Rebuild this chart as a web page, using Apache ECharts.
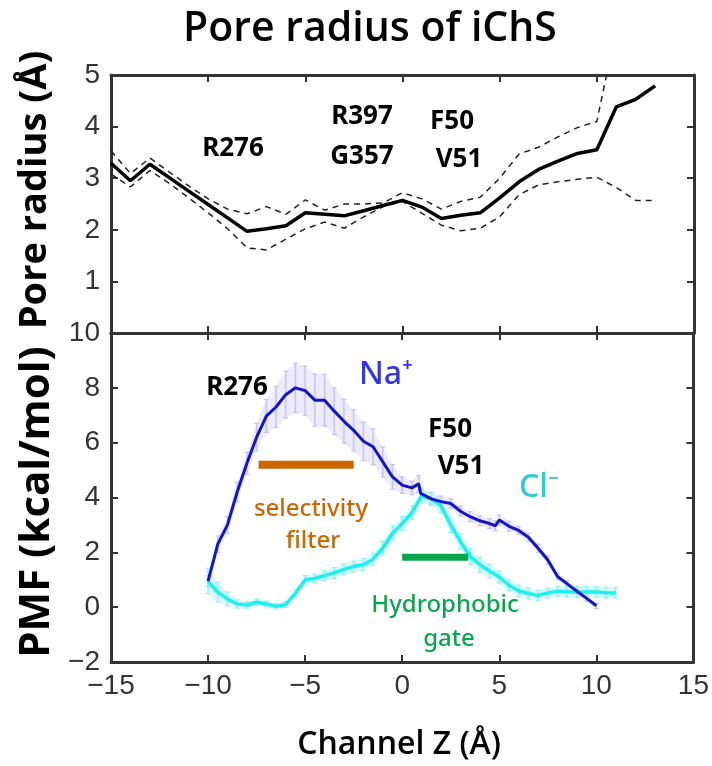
<!DOCTYPE html>
<html>
<head>
<meta charset="utf-8">
<script src="https://cdn.jsdelivr.net/npm/echarts@6/dist/echarts.min.js"></script>
<style>
  html, body { margin: 0; padding: 0; background: #fff; }
  #main { width: 712px; height: 766px; }
</style>
</head>
<body>
<div id="main"></div>
<script>
// pore radius profile (top panel)
var poreZ = [-15, -14, -13, -12, -11, -10, -9, -8, -7, -6, -5, -4, -3, -2, -1, 0, 1, 2, 3, 4, 5, 6, 7, 8, 9, 10, 11, 12, 13];
var poreMean = [3.29, 2.95, 3.27, 3.01, 2.75, 2.49, 2.23, 1.97, 2.02, 2.08, 2.33, 2.30, 2.27, 2.37, 2.47, 2.57, 2.44, 2.22, 2.28, 2.33, 2.62, 2.93, 3.17, 3.33, 3.48, 3.55, 4.38, 4.53, 4.79];
var poreUpper = [3.53, 3.09, 3.39, 3.12, 2.85, 2.6, 2.4, 2.31, 2.45, 2.3, 2.58, 2.38, 2.5, 2.5, 2.52, 2.72, 2.6, 2.4, 2.55, 2.63, 3.0, 3.47, 3.6, 3.8, 3.98, 4.1, 5.9, null, null];
var poreLower = [3.08, 2.83, 3.15, 2.9, 2.62, 2.33, 2.02, 1.65, 1.61, 1.82, 2.02, 2.15, 2.03, 2.25, 2.45, 2.55, 2.32, 2.09, 1.98, 2.03, 2.25, 2.68, 2.87, 2.93, 2.98, 3.02, 2.82, 2.57, 2.57];

// PMF of Na+ (bottom panel)
var naZ = [-10, -9.5, -9, -8.5, -8, -7.5, -7, -6.5, -6, -5.5, -5, -4.5, -4, -3.5, -3, -2.5, -2, -1.5, -1, -0.5, 0, 0.5, 0.85, 0.95, 1.5, 2, 2.5, 3, 3.5, 4, 4.5, 4.8, 5, 5.5, 6, 6.5, 7, 7.5, 8, 8.5, 9, 9.5, 10];
var naPMF = [0.95, 2.3, 3.0, 4.2, 5.25, 6.2, 6.97, 7.3, 7.75, 8.0, 7.9, 7.55, 7.55, 7.15, 6.78, 6.45, 6.05, 5.85, 5.3, 4.75, 4.45, 4.35, 4.5, 4.15, 3.95, 3.85, 3.78, 3.5, 3.3, 3.15, 3.05, 2.97, 3.18, 2.95, 2.8, 2.55, 2.15, 1.72, 1.12, 0.85, 0.58, 0.32, 0.05];
var naErr = [0.2, 0.3, 0.3, 0.35, 0.4, 0.5, 0.6, 0.75, 0.85, 0.9, 0.9, 0.95, 0.95, 0.85, 0.8, 0.75, 0.7, 0.65, 0.55, 0.45, 0.3, 0.25, 0.3, 0.2, 0.2, 0.2, 0.18, 0.18, 0.18, 0.18, 0.18, 0.18, 0.18, 0.18, 0.15, 0.15, 0.15, 0.15, 0.12, 0.12, 0.1, 0.1, 0.1];

// PMF of Cl- (bottom panel)
var clZ = [-10, -9.5, -9, -8.5, -8, -7.5, -7, -6.5, -6, -5.5, -5, -4.5, -4, -3.5, -3, -2.5, -2, -1.5, -1, -0.5, 0, 0.5, 1, 1.5, 2, 2.5, 3, 3.5, 4, 4.5, 5, 5.5, 6, 6.5, 7, 7.5, 8, 8.5, 9, 9.5, 10, 10.5, 11];
var clPMF = [0.95, 0.55, 0.3, 0.12, 0.08, 0.18, 0.12, 0.03, 0.1, 0.5, 1.0, 1.05, 1.15, 1.25, 1.38, 1.48, 1.55, 1.75, 2.15, 2.7, 3.05, 3.45, 4.05, 3.95, 3.7, 3.0, 2.4, 1.85, 1.55, 1.32, 1.1, 0.8, 0.6, 0.5, 0.43, 0.52, 0.58, 0.56, 0.55, 0.55, 0.55, 0.53, 0.52];
var clErr = [0.45, 0.35, 0.25, 0.15, 0.12, 0.12, 0.1, 0.1, 0.1, 0.15, 0.15, 0.15, 0.18, 0.2, 0.2, 0.2, 0.22, 0.22, 0.25, 0.25, 0.25, 0.25, 0.25, 0.25, 0.25, 0.28, 0.28, 0.28, 0.28, 0.25, 0.22, 0.2, 0.2, 0.2, 0.18, 0.18, 0.18, 0.2, 0.2, 0.2, 0.2, 0.2, 0.2];

// region markers
var filterZ = [-7.4, -2.5];
var filterPMF = 5.19;
var gateZ = [0.0, 3.4];
var gatePMF = 1.82;

var chartDom = document.getElementById('main');
var myChart = echarts.init(chartDom);

var AXIS = '#333';
var TICK_FONT = 'Liberation Sans';
var TEXT_FONT = '"Noto Sans", Lato, sans-serif';
var HEAD_FONT = '"Open Sans", "Noto Sans", sans-serif';

function pairs(xs, ys) {
    return xs.map(function (x, i) { return [x, ys[i]]; });
}

function minus(v) {
    return v < 0 ? '\u2212' + (-v) : '' + v;
}

// error bars + shaded band between neighbouring points
function errorRender(zs, ys, es, fill, stroke) {
    return function (params, api) {
        var i = params.dataIndex;
        var x = api.value(0), y = api.value(1), e = api.value(2);
        var top = api.coord([x, y + e]);
        var bot = api.coord([x, y - e]);
        var children = [];
        if (i < zs.length - 1) {
            var n = i + 1;
            children.push({
                type: 'polygon',
                shape: {
                    points: [
                        top,
                        api.coord([zs[n], ys[n] + es[n]]),
                        api.coord([zs[n], ys[n] - es[n]]),
                        bot
                    ]
                },
                style: {fill: fill, opacity: 0.55}
            });
        }
        children.push({
            type: 'line',
            shape: {x1: top[0], y1: top[1], x2: bot[0], y2: bot[1]},
            style: {stroke: stroke, lineWidth: 1.5}
        });
        children.push({
            type: 'line',
            shape: {x1: top[0] - 2.5, y1: top[1], x2: top[0] + 2.5, y2: top[1]},
            style: {stroke: stroke, lineWidth: 1.2}
        });
        children.push({
            type: 'line',
            shape: {x1: bot[0] - 2.5, y1: bot[1], x2: bot[0] + 2.5, y2: bot[1]},
            style: {stroke: stroke, lineWidth: 1.2}
        });
        return {type: 'group', children: children};
    };
}

function xAxisDef(grid, pos, labels) {
    return {
        type: 'value', gridIndex: grid, position: pos,
        min: -15, max: 15, interval: 5,
        axisLine: {show: true, onZero: false, lineStyle: {color: AXIS, width: 3}},
        axisTick: {show: true, inside: true, length: 7, lineStyle: {color: AXIS, width: 2}},
        axisLabel: {show: labels, color: '#333', fontFamily: TICK_FONT, fontSize: 28, margin: 10, formatter: minus},
        splitLine: {show: false}
    };
}

function yAxisDef(grid, pos, min, max, step, labels, hideMin) {
    return {
        type: 'value', gridIndex: grid, position: pos,
        min: min, max: max, interval: step,
        axisLine: {show: true, onZero: false, lineStyle: {color: AXIS, width: 3}},
        axisTick: {show: true, inside: true, length: 7, lineStyle: {color: AXIS, width: 2}},
        axisLabel: {show: labels, color: '#333', fontFamily: TICK_FONT, fontSize: 28, margin: 11,
            showMinLabel: !hideMin, formatter: minus},
        splitLine: {show: false}
    };
}

function label(text, x, y, size, color, extra) {
    extra = extra || {};
    var el = {
        type: 'text', x: x, y: y, silent: true,
        style: {
            text: text, fill: color || '#000',
            font: (extra.weight || '500') + ' ' + size + 'px ' + (extra.family || TEXT_FONT),
            align: 'center', verticalAlign: 'middle'
        }
    };
    if (extra.rotation) {
        el.rotation = extra.rotation;
    }
    return el;
}

var option = {
    animation: false,
    backgroundColor: '#fff',
    grid: [
        {left: 111, top: 75, width: 583, height: 258},
        {left: 111, top: 333, width: 583, height: 329}
    ],
    xAxis: [
        xAxisDef(0, 'bottom', false),
        xAxisDef(0, 'top', false),
        xAxisDef(1, 'bottom', true),
        xAxisDef(1, 'top', false)
    ],
    yAxis: [
        yAxisDef(0, 'left', 0, 5, 1, true, true),
        yAxisDef(0, 'right', 0, 5, 1, false),
        yAxisDef(1, 'left', -2, 10, 2, true),
        yAxisDef(1, 'right', -2, 10, 2, false)
    ],
    series: [
        {
            type: 'line', xAxisIndex: 0, yAxisIndex: 0, data: pairs(poreZ, poreLower),
            symbol: 'none', lineStyle: {color: '#222', width: 1.5, type: [6, 5]}, clip: true
        },
        {
            type: 'line', xAxisIndex: 0, yAxisIndex: 0, data: pairs(poreZ, poreUpper),
            symbol: 'none', lineStyle: {color: '#222', width: 1.5, type: [6, 5]}, clip: true
        },
        {
            type: 'line', xAxisIndex: 0, yAxisIndex: 0, data: pairs(poreZ, poreMean),
            symbol: 'none', lineStyle: {color: '#000', width: 3.5}
        },
        {
            type: 'custom', xAxisIndex: 2, yAxisIndex: 2, clip: true,
            data: naZ.map(function (z, i) { return [z, naPMF[i], naErr[i]]; }),
            renderItem: errorRender(naZ, naPMF, naErr, '#dcd9f7', '#c8c2f1')
        },
        {
            type: 'custom', xAxisIndex: 2, yAxisIndex: 2, clip: true,
            data: clZ.map(function (z, i) { return [z, clPMF[i], clErr[i]]; }),
            renderItem: errorRender(clZ, clPMF, clErr, '#b5f6f6', '#95f1f1')
        },
        {
            type: 'line', xAxisIndex: 2, yAxisIndex: 2, data: pairs(clZ, clPMF),
            symbol: 'none', lineStyle: {color: '#1cf0f0', width: 3.5}
        },
        {
            type: 'line', xAxisIndex: 2, yAxisIndex: 2, data: pairs(naZ, naPMF),
            symbol: 'none', lineStyle: {color: '#1414c8', width: 3}
        },
        {
            type: 'line', xAxisIndex: 2, yAxisIndex: 2,
            data: filterZ.map(function (z) { return [z, filterPMF]; }),
            symbol: 'none', lineStyle: {color: '#cc6600', width: 8, cap: 'butt'}
        },
        {
            type: 'line', xAxisIndex: 2, yAxisIndex: 2,
            data: gateZ.map(function (z) { return [z, gatePMF]; }),
            symbol: 'none', lineStyle: {color: '#0aa64b', width: 7, cap: 'butt'}
        }
    ],
    graphic: [
        label('Pore radius of iChS', 370, 29, 41, '#000', {family: HEAD_FONT, weight: 600}),
        label('Pore radius (\u00c5)', 35, 190, 38, '#000', {rotation: Math.PI / 2, weight: 'bold', family: HEAD_FONT}),
        label('PMF (kcal/mol)', 37, 502, 42, '#000', {rotation: Math.PI / 2, weight: 'bold', family: HEAD_FONT}),
        label('Channel Z (\u00c5)', 399, 745, 32, '#000', {family: HEAD_FONT, weight: 600}),
        label('R276', 233, 149, 26, '#000', {weight: 'bold'}),
        label('R397', 362, 117, 26, '#000', {weight: 'bold'}),
        label('G357', 362, 157, 26, '#000', {weight: 'bold'}),
        label('F50', 452, 122, 26, '#000', {weight: 'bold'}),
        label('V51', 459, 160, 26, '#000', {weight: 'bold'}),
        label('R276', 237, 388, 26, '#000', {weight: 'bold'}),
        label('Na\u207a', 386, 375, 32, '#3333ee'),
        label('F50', 450, 430, 26, '#000', {weight: 'bold'}),
        label('V51', 461, 467, 26, '#000', {weight: 'bold'}),
        label('Cl\u207b', 539, 488, 32, '#33cccc'),
        label('selectivity', 311, 509, 24, '#cc6600'),
        label('filter', 313, 541, 24, '#cc6600'),
        label('Hydrophobic', 445, 605, 24, '#0aa64b'),
        label('gate', 449, 639, 24, '#0aa64b')
    ]
};

option && myChart.setOption(option);
</script>
</body>
</html>
